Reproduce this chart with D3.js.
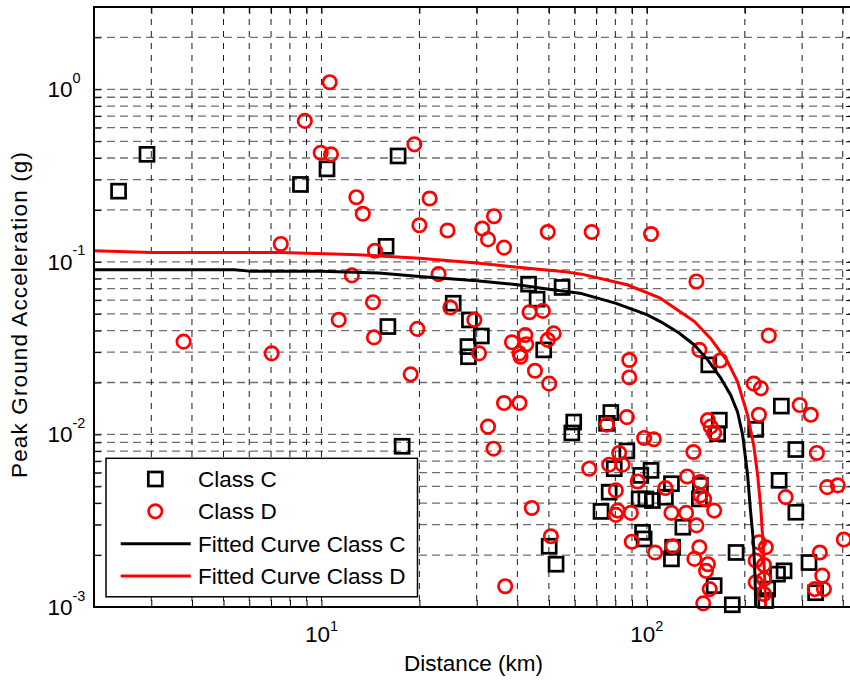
<!DOCTYPE html>
<html>
<head>
<meta charset="utf-8">
<script src="https://cdn.jsdelivr.net/npm/d3@7"></script>
<style>
  body { margin: 0; background: #fff; }
  svg { display: block; font-family: "Liberation Sans", Arial, Helvetica, sans-serif; }
</style>
</head>
<body>
<svg id="chart" width="850" height="680"></svg>
<script>
// Class C stations: epicentral distance (km) and peak ground acceleration (g)
const classC_R = [2.38, 2.91, 8.62, 10.4, 17.2, 15.8, 16.0, 25.4, 28.5, 31.0, 28.2, 28.3,
  43.3, 46.0, 54.9, 48.2, 59.6, 58.8, 17.7, 50.1, 52.6, 155, 259, 216, 77.5, 75.2, 167, 165,
  86.8, 287, 79.4, 103, 95.8, 76.6, 72.3, 94.7, 99.3, 104, 114, 119, 146, 145, 129, 97.0,
  98.1, 120, 119, 188, 161, 183, 255, 287, 315, 330, 232, 252, 264, 235];
const classC_PGA = [0.257, 0.420, 0.281, 0.346, 0.411, 0.123, 0.0422, 0.0576, 0.0461, 0.0372, 0.0323, 0.0282,
  0.0743, 0.0608, 0.0711, 0.0309, 0.0118, 0.0102, 0.00854, 0.00225, 0.00177, 0.0253, 0.0146, 0.0107, 0.0134, 0.0116, 0.0121, 0.0101,
  0.00802, 0.00818, 0.00633, 0.00619, 0.00579, 0.00463, 0.00358, 0.00423, 0.00423, 0.00414, 0.00433, 0.00518, 0.00507, 0.00423, 0.0029, 0.00271,
  0.00248, 0.00222, 0.0019, 0.00207, 0.00133, 0.00103, 0.00542, 0.00354, 0.00181, 0.00121, 0.00109, 0.00155, 0.00162, 0.00127];

// Class D stations
const classD_R = [3.77, 7.03, 7.50, 8.89, 10.6, 9.95, 10.7, 12.8, 13.4, 19.3, 21.5, 20.0,
  24.4, 31.2, 32.5, 36.4, 33.9, 49.6, 14.6, 12.4, 22.9, 14.4, 11.3, 14.5, 19.7, 24.9, 29.5,
  30.5, 18.8, 36.4, 40.6, 32.5, 33.8, 43.6, 47.9, 42.3, 38.5, 42.6, 40.6, 40.9, 51.7, 49.6,
  45.3, 50.1, 44.3, 50.7, 36.7, 67.7, 103, 142, 237, 145, 168, 88.3, 88.3, 213, 224, 221,
  295, 319, 86.8, 75.4, 154, 157, 161, 98.1, 105, 82.2, 139, 333, 76.6, 84.2, 66.5, 93.7,
  80.3, 114, 133, 146, 146, 150, 161, 81.3, 80.3, 89.3, 119, 132, 142, 89.9, 106, 120,
  145, 140, 154, 152, 156, 149, 267, 358, 386, 403, 340, 346, 328, 350,
  221, 232, 216, 229, 216, 229, 229];
const classD_PGA = [0.0345, 0.0295, 0.127, 0.656, 1.10, 0.429, 0.420, 0.237, 0.190, 0.480, 0.233, 0.163,
  0.152, 0.156, 0.135, 0.121, 0.184, 0.149, 0.116, 0.0835, 0.0849, 0.0584, 0.0461, 0.0365, 0.0409, 0.0544, 0.0461,
  0.0295, 0.0223, 0.0152, 0.0152, 0.0111, 0.00827, 0.0511, 0.0520, 0.0377, 0.0342, 0.0333, 0.0295, 0.0282, 0.0385, 0.0353,
  0.0234, 0.0197, 0.00375, 0.00257, 0.00132, 0.149, 0.145, 0.077, 0.0374, 0.0309, 0.0268, 0.0270, 0.0214, 0.0197, 0.0185, 0.0130,
  0.0148, 0.0130, 0.0126, 0.0114, 0.0121, 0.0111, 0.0102, 0.00954, 0.00938, 0.00781, 0.00791, 0.00781, 0.00668, 0.00668, 0.00633, 0.00534,
  0.00474, 0.00489, 0.00571, 0.0053, 0.00443, 0.00423, 0.00362, 0.00362, 0.00342, 0.00351, 0.00351, 0.00351, 0.00297, 0.00239, 0.00207, 0.00225,
  0.00222, 0.0019, 0.00177, 0.00162, 0.00127, 0.00105, 0.00433, 0.00495, 0.00507, 0.00246, 0.00207, 0.00152, 0.00127, 0.00127,
  0.00237, 0.00222, 0.00186, 0.00175, 0.00139, 0.00145, 0.00119];

// Fitted attenuation curves
const fitC_R = [2, 5.4, 6, 10, 15, 20, 30, 40, 50, 63, 80, 100, 110, 125, 140, 154, 169, 181, 190, 197, 204, 208, 212.5, 215, 216.2];
const fitC_PGA = [0.0901, 0.0901, 0.0884, 0.0884, 0.0862, 0.0823, 0.0778, 0.0737, 0.0695, 0.0655, 0.0577, 0.0495, 0.0451, 0.0390, 0.0330, 0.0270, 0.0211, 0.0169, 0.0135, 0.0099, 0.0058, 0.0037, 0.0024, 0.0015, 0.0009];
const fitD_R = [2, 3, 7.5, 13, 20, 30, 40, 55, 63, 87, 110, 140, 157, 177, 190, 204, 213, 219, 224, 229, 232];
const fitD_PGA = [0.116, 0.1135, 0.1135, 0.110, 0.105, 0.0984, 0.0932, 0.0881, 0.0849, 0.0737, 0.0616, 0.0451, 0.0360, 0.0264, 0.0202, 0.0129, 0.00865, 0.00579, 0.00371, 0.0019, 0.00097];

// Axis labelling
const xLabeledTicks = [10, 100];
const yLabeledTicks = [1, 0.1, 0.01, 0.001];
const legendLabels = ["Class C", "Class D", "Fitted Curve Class C", "Fitted Curve Class D"];
const xAxisTitle = "Distance (km)";
const yAxisTitle = "Peak Ground Acceleration (g)";

const svg = d3.select("#chart");
const plotL = 94, plotR = 853, plotT = 7, plotB = 607;
const fs = 22.5;

const x = d3.scaleLog().domain([2, 430]).range([plotL, plotR]);
const y = d3.scaleLog().domain([0.001, 3]).range([plotB, plotT]);

svg.append("defs").append("clipPath").attr("id", "plotClip")
  .append("rect").attr("x", plotL).attr("y", plotT).attr("width", plotR - plotL).attr("height", plotB - plotT);

// grid: every decade subdivision
const grid = svg.append("g");
grid.selectAll("line.hg").data(y.ticks()).join("line")
  .attr("class", "hg")
  .attr("x1", plotL).attr("x2", plotR)
  .attr("y1", d => y(d)).attr("y2", d => y(d))
  .attr("stroke", "#6e6e6e").attr("stroke-width", 1.3)
  .attr("stroke-dasharray", "8,5");
grid.selectAll("line.vg").data(x.ticks()).join("line")
  .attr("class", "vg")
  .attr("x1", d => x(d)).attr("x2", d => x(d))
  .attr("y1", plotT).attr("y2", plotB)
  .attr("stroke", "#000").attr("stroke-width", 0.9)
  .attr("stroke-dasharray", "6,6");

// observations
const ptsC = d3.zip(classC_R, classC_PGA);
const ptsD = d3.zip(classD_R, classD_PGA);
const sq = 14;
svg.append("g").selectAll("rect").data(ptsC).join("rect")
  .attr("x", d => x(d[0]) - sq / 2).attr("y", d => y(d[1]) - sq / 2)
  .attr("width", sq).attr("height", sq)
  .attr("fill", "none").attr("stroke", "#000").attr("stroke-width", 2.7);
svg.append("g").selectAll("circle").data(ptsD).join("circle")
  .attr("cx", d => x(d[0])).attr("cy", d => y(d[1])).attr("r", 6.7)
  .attr("fill", "none").attr("stroke", "#ff0000").attr("stroke-width", 2.7);

// fitted curves
const line = d3.line().x(d => x(d[0])).y(d => y(d[1]));
const curves = svg.append("g").attr("clip-path", "url(#plotClip)");
curves.append("path").datum(d3.zip(fitC_R, fitC_PGA))
  .attr("d", line).attr("fill", "none").attr("stroke", "#000").attr("stroke-width", 3).attr("stroke-linejoin", "round");
curves.append("path").datum(d3.zip(fitD_R, fitD_PGA))
  .attr("d", line).attr("fill", "none").attr("stroke", "#ff0000").attr("stroke-width", 3).attr("stroke-linejoin", "round");

// axes with inward ticks on all four sides
const tk = 7;
function styleAxis(g) {
  g.select(".domain").remove();
  g.selectAll(".tick line").attr("stroke", "#000").attr("stroke-width", 1);
}
svg.append("g").attr("transform", `translate(0,${plotB})`)
  .call(d3.axisBottom(x).tickValues(x.ticks()).tickSize(-tk).tickFormat("")).call(styleAxis);
svg.append("g").attr("transform", `translate(0,${plotT})`)
  .call(d3.axisTop(x).tickValues(x.ticks()).tickSize(-tk).tickFormat("")).call(styleAxis);
svg.append("g").attr("transform", `translate(${plotL},0)`)
  .call(d3.axisLeft(y).tickValues(y.ticks()).tickSize(-tk).tickFormat("")).call(styleAxis);
svg.append("g").attr("transform", `translate(${plotR},0)`)
  .call(d3.axisRight(y).tickValues(y.ticks()).tickSize(-tk).tickFormat("")).call(styleAxis);

svg.append("rect").attr("x", plotL).attr("y", plotT).attr("width", plotR - plotL).attr("height", plotB - plotT)
  .attr("fill", "none").attr("stroke", "#000").attr("stroke-width", 2);

// tick labels in power-of-ten form
const xl = svg.append("g").attr("font-size", fs).attr("fill", "#000");
xLabeledTicks.forEach(v => {
  const t = xl.append("text").attr("x", x(v)).attr("y", 641.5).attr("text-anchor", "middle");
  t.append("tspan").text("10");
  t.append("tspan").attr("font-size", 14.5).attr("dy", -10.5).text(Math.round(Math.log10(v)));
});
const yl = svg.append("g").attr("font-size", fs).attr("fill", "#000");
yLabeledTicks.forEach(v => {
  const yy = y(v);
  yl.append("text").attr("x", 72.5).attr("y", yy + 8).attr("text-anchor", "end").text("10");
  yl.append("text").attr("x", 72.5).attr("y", yy - 6.5).attr("font-size", 14.5)
    .text(String(Math.round(Math.log10(v))));
});

// axis titles
svg.append("text").attr("x", 473.5).attr("y", 671).attr("text-anchor", "middle")
  .attr("font-size", fs).text(xAxisTitle);
svg.append("text").attr("transform", "translate(27,315) rotate(-90)").attr("text-anchor", "middle")
  .attr("font-size", fs).attr("textLength", 326).attr("lengthAdjust", "spacing").text(yAxisTitle);

// legend
const lg = svg.append("g");
lg.append("rect").attr("x", 106).attr("y", 458.3).attr("width", 311.5).attr("height", 138.5)
  .attr("fill", "#fff").attr("stroke", "#000").attr("stroke-width", 1.5);
const rowY = d3.scalePoint().domain(legendLabels).range([479, 576]);
const mx = 155.3;
lg.append("rect").attr("x", mx - sq / 2).attr("y", rowY(legendLabels[0]) - sq / 2).attr("width", sq).attr("height", sq)
  .attr("fill", "none").attr("stroke", "#000").attr("stroke-width", 2.7);
lg.append("circle").attr("cx", mx).attr("cy", rowY(legendLabels[1])).attr("r", 6.7)
  .attr("fill", "none").attr("stroke", "#ff0000").attr("stroke-width", 2.7);
lg.append("line").attr("x1", 120.7).attr("x2", 190.7).attr("y1", rowY(legendLabels[2])).attr("y2", rowY(legendLabels[2]))
  .attr("stroke", "#000").attr("stroke-width", 3);
lg.append("line").attr("x1", 120.7).attr("x2", 190.7).attr("y1", rowY(legendLabels[3])).attr("y2", rowY(legendLabels[3]))
  .attr("stroke", "#ff0000").attr("stroke-width", 3);
lg.selectAll("text").data(legendLabels).join("text")
  .attr("x", 198).attr("y", d => rowY(d) + 8).attr("font-size", fs).text(d => d);
</script>
</body>
</html>
